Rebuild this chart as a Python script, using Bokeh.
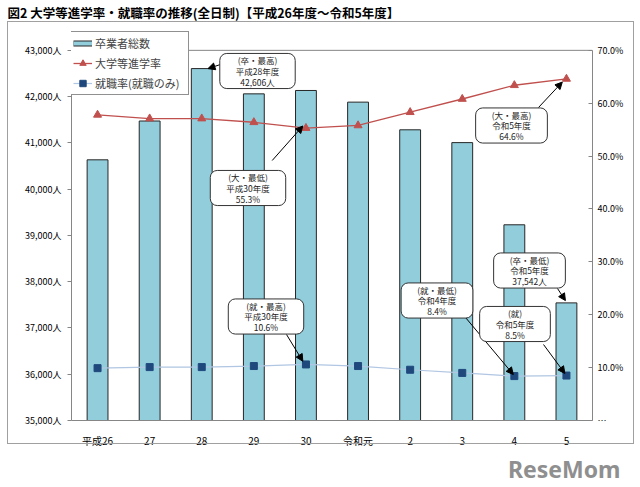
from bokeh.plotting import figure
from bokeh.models import (Range1d, LinearAxis, FixedTicker, Label, Arrow, NormalHead,
                          Legend, LegendItem, Title, InlineStyleSheet, Span)
from bokeh.embed import file_html
from bokeh.resources import INLINE

# ---------------- data ----------------
years = ["平成26", "27", "28", "29", "30", "令和元", "2", "3", "4", "5"]
graduates = [40634, 41473, 42606, 42060, 42133, 41881, 41283, 41006, 39230, 37542]
univ_rate = [57.8, 57.1, 57.1, 56.4, 55.3, 55.8, 58.3, 60.8, 63.4, 64.6]
job_rate = [9.9, 10.1, 10.1, 10.3, 10.6, 10.3, 9.6, 9.0, 8.4, 8.5]
left_ticks = [35000, 36000, 37000, 38000, 39000, 40000, 41000, 42000, 43000]
right_ticks = [0, 10, 20, 30, 40, 50, 60, 70]

idx = list(range(len(years)))
FONT = "Noto Sans CJK JP"

# layout (page pixels)
FRAME_LEFT, FRAME_RIGHT = 71, 592
PLOT_TOP, FRAME_TOP, FRAME_BOTTOM = 48, 19, 420
W, H = 640, 487
ext = (PLOT_TOP - FRAME_TOP) / (FRAME_BOTTOM - PLOT_TOP)

def sx(px):
    return px - FRAME_LEFT
def sy(py):
    return FRAME_BOTTOM - py

lo, hi = left_ticks[0], left_ticks[-1]
plo, phi = right_ticks[0], right_ticks[-1]

p = figure(width=W, height=H, x_range=Range1d(-0.5, len(years) - 0.5),
           y_range=Range1d(lo, hi + ext * (hi - lo)),
           output_backend="svg", toolbar_location=None,
           min_border_left=FRAME_LEFT, min_border_right=W - FRAME_RIGHT,
           min_border_top=FRAME_TOP, min_border_bottom=H - FRAME_BOTTOM)
p.extra_y_ranges = {"pct": Range1d(plo, phi + ext * (phi - plo))}
p.xgrid.visible = False
p.ygrid.visible = False
p.outline_line_color = None
p.background_fill_color = "white"
p.border_fill_color = "white"

# outer frame of the chart (CSS decoration)
p.stylesheets = [InlineStyleSheet(css=(
    ":host{position:relative;}"
    ":host::after{content:'';position:absolute;left:7px;top:21px;width:627px;height:423px;"
    "box-sizing:border-box;border:1px solid #a0a0a0;pointer-events:none;z-index:10;}"))]

# title
p.title.text = "図2 大学等進学率・就職率の推移(全日制)【平成26年度～令和5年度】"
p.title.text_font = FONT
p.title.text_font_style = "bold"
p.title.text_font_size = "12.5px"
p.title.text_color = "black"
p.title.align = "left"
p.title.offset = -64
p.title.standoff = 0

# top border of the plot area
p.add_layout(Span(location=hi, dimension="width", line_color="#868686", line_width=1))

# x axis
xa = p.xaxis[0]
xa.ticker = FixedTicker(ticks=idx)
xa.major_label_overrides = {i: years[i] for i in idx}
xa.major_tick_line_color = None
xa.minor_tick_line_color = None
xa.axis_line_color = "#868686"
xa.major_label_text_font = FONT
xa.major_label_text_font_size = "10px"
xa.major_label_text_color = "black"
xa.major_label_standoff = 6

# left axis
ya = p.yaxis[0]
ya.bounds = (lo, hi)
ya.ticker = FixedTicker(ticks=left_ticks)
ya.major_label_overrides = {t: f"{t:,}人" for t in left_ticks}
ya.major_tick_out = 4
ya.major_tick_in = 0
ya.minor_tick_line_color = None
ya.axis_line_color = "#868686"
ya.major_tick_line_color = "#868686"
ya.major_label_text_font = FONT
ya.major_label_text_font_size = "9px"
ya.major_label_text_color = "black"
ya.major_label_standoff = 6

# right axis
ra = LinearAxis(y_range_name="pct", ticker=FixedTicker(ticks=right_ticks), bounds=(plo, phi),
                major_label_overrides={t: ("…" if t == 0 else f"{t:.1f}%") for t in right_ticks})
ra.major_tick_out = 0
ra.major_tick_in = 4
ra.minor_tick_line_color = None
ra.axis_line_color = "#868686"
ra.major_tick_line_color = "#868686"
ra.major_label_text_font = FONT
ra.major_label_text_font_size = "9px"
ra.major_label_text_color = "black"
ra.major_label_standoff = 5
p.add_layout(ra, "right")

# watermark under the chart
wm = Title(text="ReseMom", align="right", offset=-28, standoff=0,
           text_font="Noto Sans", text_font_style="bold", text_font_size="23px",
           text_color="#8f8f8f")
p.add_layout(wm, "below")

# bars
bar_r = p.vbar(x=idx, top=graduates, bottom=lo, width=0.4,
               fill_color="#92cddc", line_color="#262626", line_width=1)

# legend swatch for the bars (flat box), drawn only in the legend
nan = float("nan")
sw_out = p.line([0, 1], [nan, nan], line_color="#262626", line_width=6)
sw_in = p.line([0, 1], [nan, nan], line_color="#92cddc", line_width=4)

# university rate
red_l = p.line(idx, univ_rate, y_range_name="pct", line_color="#c0504d", line_width=1.3)
red_m = p.scatter(idx, univ_rate, y_range_name="pct", marker="triangle", size=8,
                  fill_color="#c0504d", line_color="#c0504d")

# employment rate
blue_l = p.line(idx, job_rate, y_range_name="pct", line_color="#b0c6e2", line_width=1.2)
blue_m = p.scatter(idx, job_rate, y_range_name="pct", marker="square", size=7,
                   fill_color="#1f497d", line_color="#1f497d")

leg = Legend(items=[LegendItem(label="卒業者総数", renderers=[sw_out, sw_in]),
                    LegendItem(label="大学等進学率", renderers=[red_l, red_m]),
                    LegendItem(label="就職率(就職のみ)", renderers=[blue_l, blue_m])],
             location=(sx(69), sy(95)), glyph_width=19, glyph_height=16, label_height=16,
             label_width=90, spacing=4, padding=3, margin=0,
             border_line_color="#222222", border_line_width=1,
             background_fill_color="white", background_fill_alpha=1,
             label_text_font=FONT, label_text_font_size="11px", label_standoff=3)
p.add_layout(leg)

# arrows
def head():
    return NormalHead(size=7, fill_color="black", line_color="black")
arrows = [
    (223, 63, 2 + 0.12, graduates[2], "default"),
    (271.7, 160, 4 - 0.06, univ_rate[4] + 0.4, "pct"),
    (538, 107, 9 - 0.08, univ_rate[9] - 0.6, "pct"),
    (557, 288, 9 - 0.02, graduates[9] + 50, "default"),
    (465, 317, 8 - 0.02, job_rate[8] + 0.3, "pct"),
    (543, 344, 9 - 0.03, job_rate[9] + 0.4, "pct"),
    (286, 334, 4 - 0.06, job_rate[4] + 0.6, "pct"),
]
for px, py, xe, ye, rn in arrows:
    p.add_layout(Arrow(x_start=sx(px), y_start=sy(py), start_units="screen",
                       x_end=xe, y_end=ye, end_units="data", y_range_name=rn,
                       line_color="black", line_width=1, end=head()))

# callout boxes
callouts = [
    (257, 70.5, f"(卒・最高)\n平成28年度\n{graduates[2]:,}人"),
    (247.5, 187.5, f"(大・最低)\n平成30年度\n{univ_rate[4]:.1f}%"),
    (511, 125, f"(大・最高)\n令和5年度\n{univ_rate[9]:.1f}%"),
    (529, 270, f"(卒・最低)\n令和5年度\n{graduates[9]:,}人"),
    (436.5, 300, f"(就・最低)\n令和4年度\n{job_rate[8]:.1f}%"),
    (514.5, 323.5, f"(就)\n令和5年度\n{job_rate[9]:.1f}%"),
    (265.5, 316, f"(就・最高)\n平成30年度\n{job_rate[4]:.1f}%"),
]
for px, py, t in callouts:
    p.add_layout(Label(x=sx(px), y=sy(py), x_units="screen", y_units="screen", text=t,
                       text_align="center", text_baseline="middle", text_font=FONT,
                       text_font_size="8.5px", text_color="#222222", text_line_height=0.88,
                       background_fill_color="white", border_line_color="#333333",
                       border_line_width=1, border_radius=7, padding=(16, 1)))

open("out.html", "w").write(file_html(p, INLINE))
